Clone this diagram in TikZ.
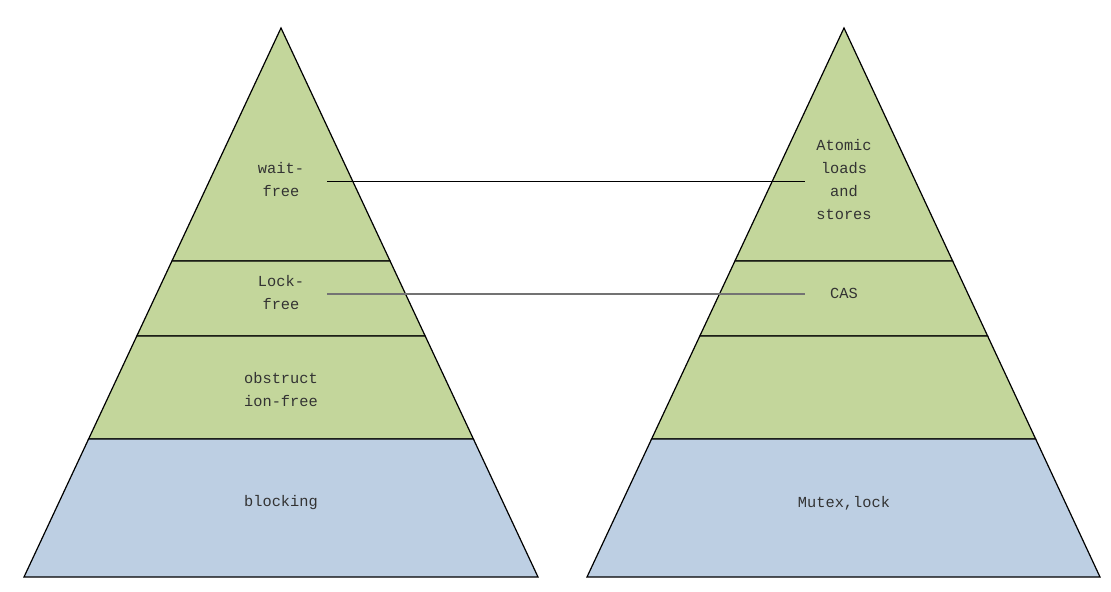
\documentclass[tikz,border=0pt]{standalone}
\usepackage{fontspec}
\setmonofont{Liberation Mono}
\usetikzlibrary{calc}

\tikzset{
  greenband/.style={draw=black, line width=0.9pt, fill=green!25!olive!30!white, line join=miter},
  blueband/.style={draw=black, line width=0.9pt, fill=blue!12!cyan!10!gray!30, line join=miter},
  lbl/.style={font=\ttfamily\fontsize{11.5}{17.25}\selectfont, text=black!80, align=center, inner sep=1pt},
  link/.style={draw=black, line width=0.9pt},
  linkgray/.style={draw=black!55, line width=1.6pt},
}
\definecolor{bandgreen}{HTML}{C3D69B}
\definecolor{bandblue}{HTML}{BDCFE3}

\begin{document}
\begin{tikzpicture}[x=0.75pt, y=-0.75pt]
\useasboundingbox (0,0) rectangle (1111,592);

% left pyramid
\coordinate (LA) at (281,28);
\coordinate (LL) at (24,577);
\coordinate (LR) at (538,577);
% right pyramid
\coordinate (RA) at (844,28);
\coordinate (RL) at (587,577);
\coordinate (RR) at (1100,577);

\foreach \p in {L,R} {
  \coordinate (\p1l) at ($(\p A)!0.4244!(\p L)$);
  \coordinate (\p1r) at ($(\p A)!0.4244!(\p R)$);
  \coordinate (\p2l) at ($(\p A)!0.5610!(\p L)$);
  \coordinate (\p2r) at ($(\p A)!0.5610!(\p R)$);
  \coordinate (\p3l) at ($(\p A)!0.7486!(\p L)$);
  \coordinate (\p3r) at ($(\p A)!0.7486!(\p R)$);
  \draw[greenband, fill=bandgreen] (\p A) -- (\p1r) -- (\p1l) -- cycle;
  \draw[greenband, fill=bandgreen] (\p1l) -- (\p1r) -- (\p2r) -- (\p2l) -- cycle;
  \draw[greenband, fill=bandgreen] (\p2l) -- (\p2r) -- (\p3r) -- (\p3l) -- cycle;
  \draw[blueband, fill=bandblue] (\p3l) -- (\p3r) -- (\p R) -- (\p L) -- cycle;
}

% left labels
\node[lbl] (waitfree) at (281,180) {wait-\\free};
\node[lbl] (lockfree) at (281,293) {Lock-\\free};
\node[lbl] (obsfree) at (281,390) {obstruct\\ion-free};
\node[lbl] (blocking) at (281,503) {blocking};

% right labels
\node[lbl] (atomic) at (844,180) {Atomic\\loads\\and\\stores};
\node[lbl] (cas) at (844,293) {CAS};
\node[lbl] (mutex) at (844,503) {Mutex,lock};

% links
\coordinate (w1) at (327,181.5);
\coordinate (w2) at (805,181.5);
\coordinate (c1) at (327,294);
\coordinate (c2) at (805,294);
\draw[link] (w1) -- (w2);
\draw[linkgray] (c1) -- (c2);
\end{tikzpicture}
\end{document}
